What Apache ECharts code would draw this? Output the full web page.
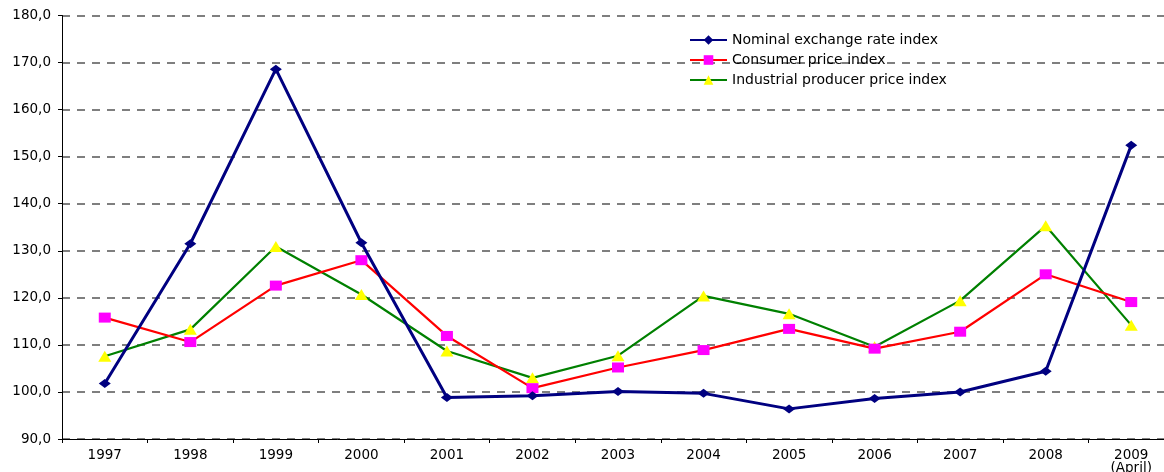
<!DOCTYPE html>
<html><head><meta charset="utf-8">
<script src="https://cdn.jsdelivr.net/npm/echarts@6/dist/echarts.min.js"></script>
<style>html,body{margin:0;padding:0;background:#fff;overflow:hidden}#c{width:1164px;height:472px}</style>
</head><body><div id="c"></div>
<script>
const categories = ['1997','1998','1999','2000','2001','2002','2003','2004','2005','2006','2007','2008','2009\n(April)'];
const nominalExchange = [101.8,131.5,168.6,131.7,98.8,99.2,100.1,99.7,96.4,98.6,100.0,104.4,152.4];
const consumerPrice = [115.8,110.6,122.6,128.0,111.9,100.8,105.2,108.9,113.4,109.2,112.8,125.0,119.1];
const producerPrice = [107.6,113.3,130.9,120.7,108.7,103.0,107.7,120.4,116.6,109.6,119.4,135.3,114.2];
const seriesNames = ['Nominal exchange rate index','Consumer price index','Industrial producer price index'];

const font = 'DejaVu Sans';
const chart = echarts.init(document.getElementById('c'));
chart.setOption({
  animation: false,
  backgroundColor: '#fff',
  grid: {left: 62, right: -10, top: 15.5, bottom: 33, containLabel: false, outerBoundsMode: 'none'},
  legend: {
    orient: 'vertical', left: 684, top: 28,
    itemWidth: 37, itemHeight: 12, itemGap: 6,
    textStyle: {fontFamily: font, fontSize: 14, color: '#000'},
    data: seriesNames
  },
  xAxis: {
    type: 'category', data: categories, boundaryGap: true,
    axisLine: {lineStyle: {color: '#000', width: 1}},
    axisTick: {show: true, length: 4, lineStyle: {color: '#000'}},
    axisLabel: {fontFamily: font, fontSize: 13.5, color: '#000', margin: 10, lineHeight: 13, interval: 0}
  },
  yAxis: {
    type: 'value', min: 90, max: 180, interval: 10,
    axisLine: {show: true, lineStyle: {color: '#000', width: 1}},
    axisTick: {show: true, length: 4, lineStyle: {color: '#000'}},
    axisLabel: {fontFamily: font, fontSize: 13.5, color: '#000', margin: 11,
      formatter: v => v.toFixed(1).replace('.', ',')},
    splitLine: {show: true, lineStyle: {color: '#555', type: [8, 7], width: 1.5}}
  },
  series: [
    {name: seriesNames[0], type: 'line', data: nominalExchange,
     lineStyle: {color: '#000080', width: 3}, itemStyle: {color: '#000080'},
     symbol: 'diamond', symbolSize: [12, 9], showAllSymbol: true, z: 4},
    {name: seriesNames[1], type: 'line', data: consumerPrice,
     lineStyle: {color: '#ff0000', width: 2.2}, itemStyle: {color: '#ff00ff'},
     symbol: 'rect', symbolSize: [12, 10], showAllSymbol: true, z: 3},
    {name: seriesNames[2], type: 'line', data: producerPrice,
     lineStyle: {color: '#008000', width: 2.2}, itemStyle: {color: '#ffff00'},
     symbol: 'triangle', symbolSize: [13, 11], showAllSymbol: true, z: 2}
  ]
});
</script></body></html>
